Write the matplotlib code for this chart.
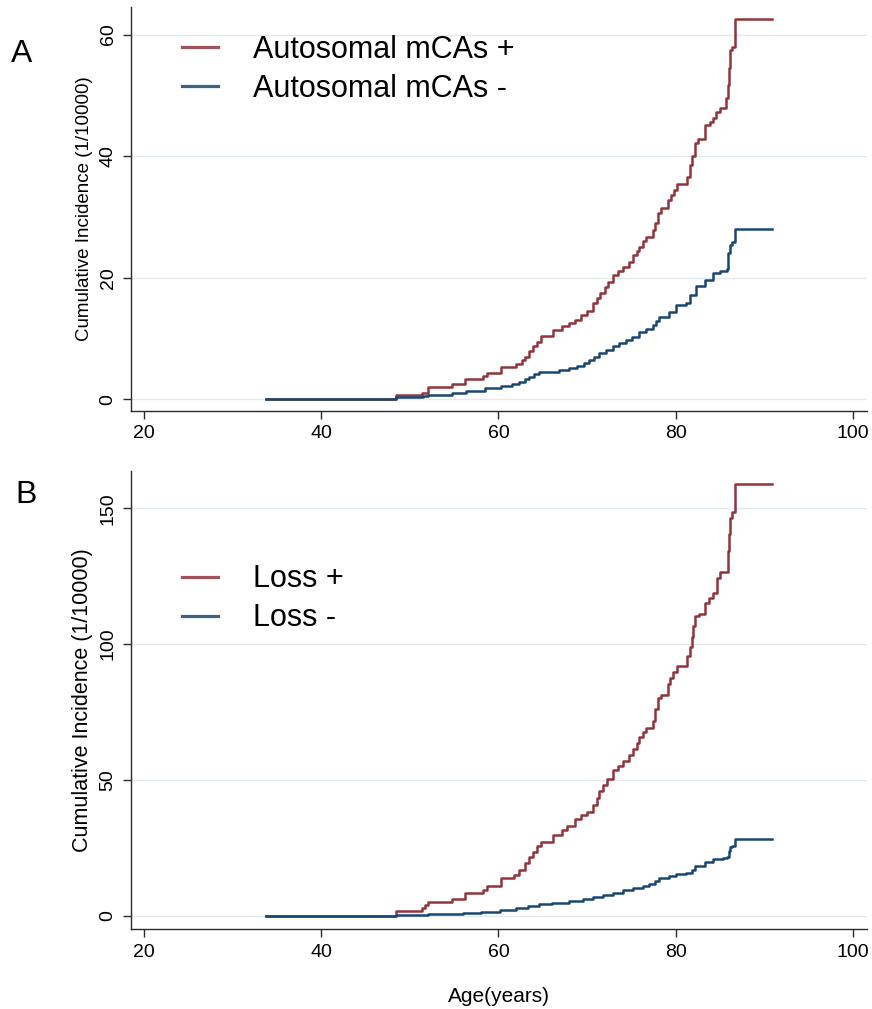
import matplotlib
matplotlib.use('Agg')
import matplotlib.pyplot as plt

plt.rcParams['font.family'] = ['Liberation Sans', 'DejaVu Sans']

RED = '#90353B'
BLUE = '#1A476F'
GRID = '#E2EAED'
AXIS = '#2B2B2B'

# Panel A: autosomal mCAs, step points (age, cumulative incidence per 10000)
age_auto_pos = [33.8, 48.4, 51.4, 52.1, 54.8, 56.2, 58.3, 58.7, 60.3, 62.0, 62.6, 63.0,
                63.5, 63.9, 64.3, 64.85, 66.2, 67.2, 68.0, 68.6, 69.3, 70.0, 70.7, 71.1,
                71.5, 72.0, 72.4, 72.9, 73.5, 74.1, 74.7, 75.2, 75.6, 75.9, 76.3, 76.7,
                77.4, 77.7, 78.0, 78.3, 79.1, 79.5, 79.8, 80.1, 81.3, 81.6, 81.8, 82.2,
                82.5, 83.3, 83.9, 84.2, 84.6, 85.0, 85.7, 85.9, 86.0, 86.1, 86.4, 86.7, 90.9]
ci_auto_pos = [0.0, 0.7, 1.1, 2.0, 2.5, 3.3, 3.8, 4.3, 5.3, 5.8, 6.4, 7.0,
               8.0, 8.8, 9.4, 10.4, 11.4, 12.0, 12.5, 13.0, 13.8, 14.5, 15.8, 16.6,
               17.5, 18.5, 19.3, 20.4, 21.1, 21.8, 22.6, 23.7, 24.4, 25.1, 26.0, 26.7,
               27.8, 29.0, 30.6, 31.4, 32.8, 33.6, 34.4, 35.5, 36.6, 38.5, 40.0, 42.1,
               42.9, 45.1, 45.7, 46.2, 47.2, 48.0, 49.5, 51.7, 54.5, 57.4, 58.0, 62.5, 62.5]

age_auto_neg = [33.8, 48.4, 51.5, 52.1, 54.8, 56.3, 58.5, 60.3, 61.5, 62.3, 63.0, 63.5,
                64.0, 64.6, 66.8, 68.0, 68.9, 69.6, 70.2, 70.8, 71.4, 72.1, 72.9, 73.6,
                74.4, 75.1, 75.9, 76.6, 77.4, 77.8, 78.1, 79.2, 80.0, 81.2, 81.6, 82.3,
                83.3, 84.2, 85.0, 85.8, 85.9, 86.1, 86.4, 86.7, 90.9]
ci_auto_neg = [0.0, 0.3, 0.5, 0.7, 1.1, 1.4, 1.8, 2.2, 2.5, 2.9, 3.3, 3.7,
               4.1, 4.4, 4.8, 5.2, 5.5, 6.0, 6.5, 7.0, 7.6, 8.1, 8.7, 9.2,
               9.75, 10.3, 11.1, 11.6, 12.2, 12.9, 13.6, 14.4, 15.5, 15.8, 17.2, 18.6,
               19.6, 20.7, 21.1, 21.5, 24.0, 25.4, 25.9, 28.0, 28.0]

# Panel B: loss events
age_loss_pos = [33.8, 48.4, 51.4, 51.7, 52.1, 54.8, 56.2, 58.3, 58.65, 60.3, 61.8, 62.3,
                63.0, 63.5, 63.9, 64.4, 64.85, 66.2, 67.2, 67.7, 68.6, 69.3, 70.0, 70.7,
                71.1, 71.4, 71.8, 72.2, 72.9, 73.5, 74.1, 74.7, 75.2, 75.6, 75.9, 76.3,
                76.7, 77.4, 77.7, 78.0, 78.3, 79.1, 79.4, 79.7, 80.1, 81.3, 81.6, 81.8,
                82.0, 82.2, 82.6, 83.3, 83.8, 84.2, 84.7, 85.0, 85.9, 86.0, 86.1, 86.4,
                86.7, 90.9]
ci_loss_pos = [0.0, 1.7, 2.7, 3.8, 5.0, 6.3, 8.5, 9.5, 11.0, 13.7, 15.0, 17.0,
               19.5, 21.5, 23.4, 25.5, 27.2, 29.8, 31.7, 33.0, 35.6, 37.0, 38.2, 40.8,
               43.5, 45.9, 48.2, 50.5, 53.7, 55.3, 56.9, 59.0, 61.4, 63.7, 65.9, 67.5,
               69.2, 71.7, 76.0, 80.1, 81.4, 85.3, 87.5, 89.8, 92.0, 95.6, 99.0, 102.7,
               106.5, 110.4, 111.0, 115.0, 117.0, 118.8, 124.5, 126.5, 134.3, 140.5, 146.4, 148.5,
               159.1, 159.1]

age_loss_neg = [33.8, 48.4, 52.1, 56.0, 58.0, 60.2, 62.0, 63.3, 64.6, 66.0, 68.0, 69.5,
                70.7, 71.8, 72.9, 74.0, 75.2, 76.3, 77.0, 77.7, 78.1, 79.2, 80.0, 81.2,
                81.8, 82.2, 83.3, 84.2, 85.3, 85.8, 86.0, 86.1, 86.4, 86.7, 90.9]
ci_loss_neg = [0.0, 0.3, 0.5, 1.0, 1.4, 2.1, 2.7, 3.5, 4.3, 4.8, 5.3, 6.0,
               6.85, 7.7, 8.5, 9.3, 10.2, 11.0, 11.7, 12.6, 13.7, 14.6, 15.4, 15.9,
               17.0, 18.2, 19.7, 20.7, 21.3, 21.5, 24.0, 25.3, 25.8, 28.1, 28.1]

x_ticks = [20, 40, 60, 80, 100]
yticks_a = [0, 20, 40, 60]
yticks_b = [0, 50, 100, 150]
labels_a = ['Autosomal mCAs +', 'Autosomal mCAs -']
labels_b = ['Loss +', 'Loss -']


def style_panel(ax, yticks, ylim, ylabel_size, legend_y):
    ax.set_xlim(18.53, 101.58)
    ax.set_ylim(*ylim)
    ax.set_xticks(x_ticks)
    ax.set_yticks(yticks)
    ax.set_yticklabels([str(t) for t in yticks], rotation=90, va='center')
    for s in ['top', 'right']:
        ax.spines[s].set_visible(False)
    for s in ['left', 'bottom']:
        ax.spines[s].set_color(AXIS)
        ax.spines[s].set_linewidth(1.0)
    ax.tick_params(axis='both', direction='out', length=5.8, width=1.0,
                   color=AXIS, labelsize=14, labelcolor='black')
    ax.tick_params(axis='x', pad=4.5)
    ax.tick_params(axis='y', pad=4.5)
    ax.grid(axis='y', color=GRID, linewidth=1.0)
    ax.set_axisbelow(True)
    ax.set_ylabel('Cumulative Incidence (1/10000)', fontsize=ylabel_size)
    ax.yaxis.set_label_coords(-0.051, 0.5)
    leg = ax.legend(loc='center left', bbox_to_anchor=(0.0689, legend_y), frameon=False,
                    fontsize=22, handlelength=1.2, handletextpad=1.15, labelspacing=0.3,
                    borderpad=0, borderaxespad=0)
    for line in leg.get_lines():
        line.set_linewidth(2.3)
        line.set_alpha(0.85)


fig = plt.figure(figsize=(8.72, 10.09), dpi=100)
ax_a = fig.add_axes([0.1502, 0.5927, 0.8440, 0.4001])
ax_b = fig.add_axes([0.1502, 0.0790, 0.8440, 0.4544])

ax_a.step(age_auto_pos, ci_auto_pos, where='post', color=RED, linewidth=1.8, label=labels_a[0])
ax_a.step(age_auto_neg, ci_auto_neg, where='post', color=BLUE, linewidth=1.8, label=labels_a[1])
style_panel(ax_a, yticks_a, (-1.93, 64.5), 13.5, 0.846)

ax_b.step(age_loss_pos, ci_loss_pos, where='post', color=RED, linewidth=1.8, label=labels_b[0])
ax_b.step(age_loss_neg, ci_loss_neg, where='post', color=BLUE, linewidth=1.8, label=labels_b[1])
style_panel(ax_b, yticks_b, (-5.0, 163.8), 15.5, 0.7206)

fig.text(11 / 872, 1 - 62 / 1009, 'A', fontsize=23, va='baseline', ha='left')
fig.text(15 / 872, 1 - 503 / 1009, 'B', fontsize=23, va='baseline', ha='left')
fig.text(499 / 872, 1 - 1001.5 / 1009, 'Age(years)', fontsize=15, va='baseline', ha='center')

fig.savefig('out.png', dpi=100)
